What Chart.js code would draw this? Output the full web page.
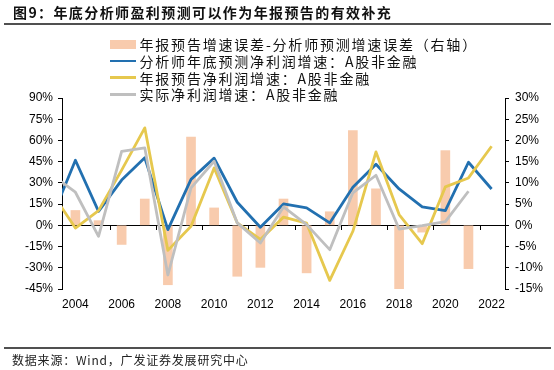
<!DOCTYPE html>
<html>
<head>
<meta charset="utf-8">
<script src="https://cdn.jsdelivr.net/npm/chart.js@4.4.0/dist/chart.umd.min.js"></script>
<style>
  html, body { margin: 0; padding: 0; background: #fff; }
  #wrap { position: relative; width: 554px; height: 370px; overflow: hidden; font-family: "Noto Sans CJK SC", sans-serif; }
  canvas { position: absolute; left: 0; top: 0; }
  #title { position: absolute; left: 13px; top: 3px; font-size: 14px; font-weight: bold; line-height: 18px; letter-spacing: 1.4px; color: #111; white-space: nowrap; }
  .rule { position: absolute; left: 4px; width: 547px; height: 2px; background: #505050; }
  #legend { position: absolute; left: 110px; top: 36px; }
  .item { height: 16.7px; line-height: 16px; display: flex; align-items: center; font-size: 14px; letter-spacing: 1.8px; white-space: nowrap; color: #111; }
  .swatch { display: inline-block; width: 26px; margin-right: 3.5px; }
  #source { position: absolute; left: 12px; top: 352px; font-size: 12px; line-height: 16px; letter-spacing: 0.8px; color: #222; white-space: nowrap; }
</style>
</head>
<body>
<div id="wrap">
  <canvas id="growthChart" width="554" height="370"></canvas>
  <div id="title">图9：年底分析师盈利预测可以作为年报预告的有效补充</div>
  <div class="rule" style="top: 23px;"></div>
  <div id="legend"></div>
  <div class="rule" style="top: 347px;"></div>
  <div id="source">数据来源：Wind，广发证券发展研究中心</div>
</div>
<script>
// Năm (trục X)
var years = [2003, 2004, 2005, 2006, 2007, 2008, 2009, 2010, 2011, 2012,
             2013, 2014, 2015, 2016, 2017, 2018, 2019, 2020, 2021, 2022];

// 年报预告增速误差-分析师预测增速误差 (右轴, %)
var errorGap = [null, 3.5, 1.1, -4.5, 6.2, -14, 20.8, 4.1, -12, -9.9,
                6.2, -11.2, 3.2, 22.3, 8.6, -15, -1.6, 17.6, -10.2, null];

// 分析师年底预测净利润增速 (%)
var analystGrowth = [6.2, 46, 9.9, 32, 47.7, -3, 32.5, 47.5, 16.3, -1.4,
                     15.1, 12.3, 1.7, 26.9, 43.2, 25.7, 13, 10.4, 44.6, 25.7];

// 年报预告净利润增速 (%)
var prelimGrowth = [22.6, -1.9, 10.4, 39, 68.9, -17.7, -0.7, 40.6, 1.7, -10,
                    5.8, 1.5, -38.9, -4.2, 51.9, 7.6, -13, 27.2, 33.5, 55.9];

// 实际净利润增速 (%)
var actualGrowth = [35.5, 23.4, -7.8, 52.2, 54.8, -35.1, 26.5, 45.3, 1.7, -12.5,
                    13, 0.5, -17.2, 23, 35.4, -2.6, -0.2, 2.6, 24.1, null];

// Nhãn trục X và vạch chia trên đường 0%
var xTickLabels = [2004, 2006, 2008, 2010, 2012, 2014, 2016, 2018, 2020, 2022];
var zeroLineTicks = [2005.5, 2007.5, 2009.5, 2011.5, 2013.5, 2015.5, 2017.5, 2019.5, 2021.5];

var legendLabels = [
    '年报预告增速误差-分析师预测增速误差（右轴）',
    '分析师年底预测净利润增速：A股非金融',
    '年报预告净利润增速：A股非金融',
    '实际净利润增速：A股非金融'
];

function toPoints(values) {
    return years.map(function (yr, i) {
        return { x: yr, y: values[i] };
    });
}

function pct(v) {
    return v + '%';
}

Chart.defaults.font.family = '"Liberation Sans", Arial, sans-serif';
Chart.defaults.font.size = 12;
Chart.defaults.color = '#000';

var xMin = 2003.42, xMax = 2022.58;

var ctx = document.getElementById('growthChart').getContext('2d');
var chart = new Chart(ctx, {
    type: 'bar',
    data: {
        datasets: [{
            type: 'bar',
            label: legendLabels[0],
            data: toPoints(errorGap),
            yAxisID: 'y2',
            backgroundColor: '#F8CBAD',
            barThickness: 9,
            order: 3
        }, {
            type: 'line',
            label: legendLabels[1],
            data: toPoints(analystGrowth),
            yAxisID: 'y',
            borderColor: '#2270B0',
            borderWidth: 2.8,
            pointRadius: 0,
            tension: 0,
            clip: 0,
            borderJoinStyle: 'round',
            order: 2
        }, {
            type: 'line',
            label: legendLabels[2],
            data: toPoints(prelimGrowth),
            yAxisID: 'y',
            borderColor: '#E6C84E',
            borderWidth: 2.8,
            pointRadius: 0,
            tension: 0,
            clip: 0,
            borderJoinStyle: 'round',
            order: 1
        }, {
            type: 'line',
            label: legendLabels[3],
            data: toPoints(actualGrowth),
            yAxisID: 'y',
            borderColor: '#BFBFBF',
            borderWidth: 2.8,
            pointRadius: 0,
            tension: 0,
            clip: 0,
            borderJoinStyle: 'round',
            order: 0
        }]
    },
    options: {
        responsive: false,
        animation: false,
        layout: { padding: { top: 98, bottom: 51, left: 0, right: 0 } },
        plugins: {
            legend: { display: false },
            tooltip: { enabled: false }
        },
        scales: {
            x: {
                type: 'linear',
                position: 'bottom',
                min: xMin,
                max: xMax,
                offset: false,
                grid: { display: false, drawTicks: false, offset: false },
                border: { display: false },
                ticks: {
                    padding: 8,
                    autoSkip: false,
                    maxRotation: 0,
                    callback: function (v) { return String(v); }
                },
                afterBuildTicks: function (scale) {
                    scale.ticks = xTickLabels.map(function (v) { return { value: v }; });
                },
                afterFit: function (scale) { scale.height = 30; }
            },
            x2: {
                type: 'linear',
                axis: 'x',
                position: { y: 0 },
                min: xMin,
                max: xMax,
                offset: false,
                grid: { display: true, offset: false, drawOnChartArea: false, drawTicks: true, tickLength: 4, color: '#000' },
                border: { display: true, color: '#000', width: 1 },
                ticks: { display: false },
                afterBuildTicks: function (scale) {
                    scale.ticks = zeroLineTicks.map(function (v) { return { value: v }; });
                }
            },
            y: {
                type: 'linear',
                position: 'left',
                min: -45,
                max: 90,
                ticks: { stepSize: 15, padding: 5, callback: pct },
                grid: { drawOnChartArea: false, tickLength: 4, color: '#000' },
                border: { display: true, color: '#000', width: 1 },
                afterFit: function (scale) { scale.width = 62; }
            },
            y2: {
                type: 'linear',
                position: 'right',
                min: -15,
                max: 30,
                ticks: { stepSize: 5, padding: 6, callback: pct },
                grid: { drawOnChartArea: false, tickLength: 4, color: '#000' },
                border: { display: true, color: '#000', width: 1 },
                afterFit: function (scale) { scale.width = 49; }
            }
        }
    }
});

// Chú giải dạng HTML, mỗi dòng một mục
var legendBox = document.getElementById('legend');
chart.data.datasets.forEach(function (ds) {
    var row = document.createElement('div');
    row.className = 'item';
    var sw = document.createElement('span');
    sw.className = 'swatch';
    if (ds.type === 'line') {
        sw.style.height = '2.5px';
        sw.style.background = ds.borderColor;
    } else {
        sw.style.height = '8.5px';
        sw.style.background = ds.backgroundColor;
    }
    var txt = document.createElement('span');
    txt.textContent = ds.label;
    row.appendChild(sw);
    row.appendChild(txt);
    legendBox.appendChild(row);
});
</script>
</body>
</html>
